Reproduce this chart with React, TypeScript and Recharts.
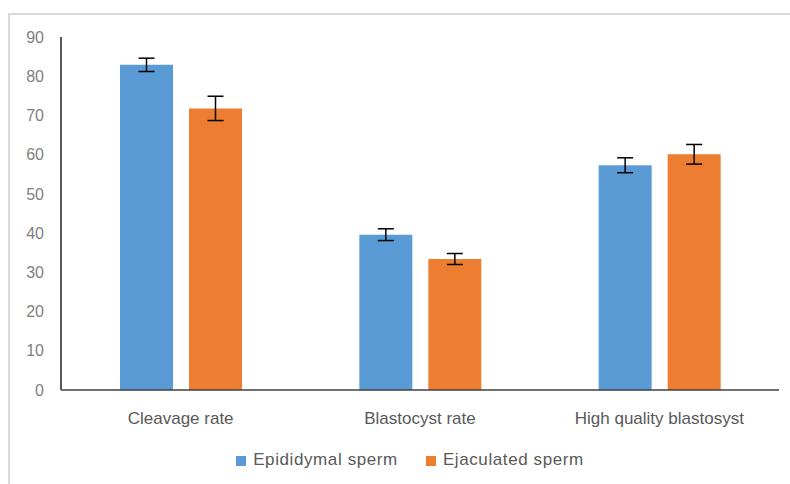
import { BarChart, Bar, XAxis, YAxis, Legend, ErrorBar } from "recharts";

const categories = ["Cleavage rate", "Blastocyst rate", "High quality blastosyst"];
const epididymal = [82.9, 39.6, 57.3];
const epididymalErr = [1.7, 1.5, 1.9];
const ejaculated = [71.8, 33.4, 60.1];
const ejaculatedErr = [3.1, 1.4, 2.5];
const yTicks = [0, 10, 20, 30, 40, 50, 60, 70, 80, 90];

const data = categories.map((name, i) => ({
  name,
  epi: epididymal[i],
  epiErr: epididymalErr[i],
  eja: ejaculated[i],
  ejaErr: ejaculatedErr[i],
}));

const font = "'Liberation Sans', Arial, sans-serif";

export default function App() {
  return (
    <div style={{ position: "absolute", left: 0, top: 0, width: 790, height: 484, background: "#fff", overflow: "hidden" }}>
      <div
        style={{
          position: "absolute",
          left: 8,
          top: 13,
          width: 800,
          height: 490,
          borderTop: "2px solid #d9d9d9",
          borderLeft: "2px solid #d9d9d9",
        }}
      />
      <BarChart
        width={790}
        height={484}
        data={data}
        margin={{ top: 37, right: 11, left: 21, bottom: 44 }}
        barSize={53}
        barGap={16}
        style={{ position: "absolute", left: 0, top: 0, fontFamily: font }}
      >
        <XAxis
          dataKey="name"
          axisLine={{ stroke: "#404040", strokeWidth: 1.5 }}
          tickLine={false}
          tick={{ fill: "#595959", fontSize: 17 }}
          tickMargin={16}
        />
        <YAxis
          width={40}
          domain={[0, 90]}
          ticks={yTicks}
          interval={0}
          axisLine={{ stroke: "#595959", strokeWidth: 2 }}
          tickLine={false}
          tickSize={6}
          tickMargin={11}
          tick={{ fill: "#7f7f7f", fontSize: 16 }}
        />
        <Legend
          verticalAlign="bottom"
          iconType="square"
          iconSize={10}
          itemSorter={(item: any) => (item.dataKey === "epi" ? 0 : 1)}
          wrapperStyle={{ bottom: 14, left: 36, fontSize: 17 }}
          formatter={(v, entry: any) => (
            <span
              style={{
                color: "#595959",
                letterSpacing: 0.6,
                marginLeft: 3,
                marginRight: entry.dataKey === "epi" ? 18 : 0,
              }}
            >
              {v}
            </span>
          )}
        />
        <Bar dataKey="epi" name="Epididymal sperm" fill="#5b9bd5" isAnimationActive={false}>
          <ErrorBar dataKey="epiErr" width={8} stroke="#000" strokeWidth={1.5} />
        </Bar>
        <Bar dataKey="eja" name="Ejaculated sperm" fill="#ed7d31" isAnimationActive={false}>
          <ErrorBar dataKey="ejaErr" width={8} stroke="#000" strokeWidth={1.5} />
        </Bar>
      </BarChart>
    </div>
  );
}
